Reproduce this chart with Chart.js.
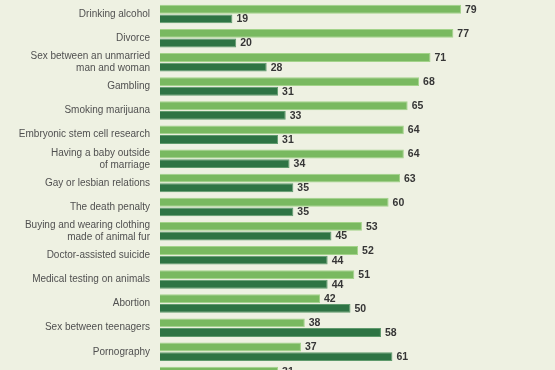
<!DOCTYPE html>
<html>
<head>
<meta charset="utf-8">
<script src="https://cdn.jsdelivr.net/npm/chart.js@4"></script>
<style>
  html, body { margin: 0; padding: 0; background: #eef1e2; overflow: hidden; }
  #wrap { width: 555px; height: 390px; }
</style>
</head>
<body>
<div id="wrap"><canvas id="chart" width="555" height="390"></canvas></div>
<script>
// data
const categories = [
  'Drinking alcohol',
  'Divorce',
  ['Sex between an unmarried', 'man and woman'],
  'Gambling',
  'Smoking marijuana',
  'Embryonic stem cell research',
  ['Having a baby outside', 'of marriage'],
  'Gay or lesbian relations',
  'The death penalty',
  ['Buying and wearing clothing', 'made of animal fur'],
  'Doctor-assisted suicide',
  'Medical testing on animals',
  'Abortion',
  'Sex between teenagers',
  'Pornography',
  'Cloning animals'
];
const acceptable = [79, 77, 71, 68, 65, 64, 64, 63, 60, 53, 52, 51, 42, 38, 37, 31];
const wrong      = [19, 20, 28, 31, 33, 31, 34, 35, 35, 45, 44, 44, 50, 58, 61, 65];
const xTicks = [0, 100];

// value labels next to bar ends
const valueLabels = {
  id: 'valueLabels',
  afterDatasetsDraw(chart) {
    const ctx = chart.ctx;
    ctx.save();
    ctx.font = 'bold 10.5px "Liberation Sans", Arial, sans-serif';
    ctx.fillStyle = '#363636';
    ctx.textAlign = 'left';
    ctx.textBaseline = 'middle';
    chart.data.datasets.forEach((ds, i) => {
      chart.getDatasetMeta(i).data.forEach((bar, j) => {
        ctx.fillText(ds.data[j], bar.x + 4, bar.y + 0.5);
      });
    });
    ctx.restore();
  }
};

new Chart(document.getElementById('chart'), {
  type: 'bar',
  data: {
    labels: categories,
    datasets: [
      {
        label: 'Morally acceptable',
        data: acceptable,
        backgroundColor: '#79b960',
        borderColor: '#a3d38a',
        borderWidth: 1,
        categoryPercentage: 0.8,
        barPercentage: 0.93
      },
      {
        label: 'Morally wrong',
        data: wrong,
        backgroundColor: '#2e7444',
        borderColor: '#5f9a6c',
        borderWidth: 1,
        categoryPercentage: 0.8,
        barPercentage: 0.93
      }
    ]
  },
  options: {
    indexAxis: 'y',
    responsive: false,
    animation: false,
    devicePixelRatio: 1,
    layout: { padding: { top: 2, bottom: 2, left: 0, right: 14 } },
    plugins: {
      legend: { display: false },
      tooltip: { enabled: false }
    },
    scales: {
      x: {
        display: false,
        min: xTicks[0],
        max: xTicks[1]
      },
      y: {
        grid: { display: false },
        border: { display: false },
        ticks: {
          autoSkip: false,
          padding: 2,
          color: '#505050',
          font: { family: '"Liberation Sans", Arial, sans-serif', size: 10, lineHeight: 1.2 }
        },
        afterFit(scale) {
          scale.width = 160;
          scale.paddingTop = 0;
          scale.paddingBottom = 0;
        }
      }
    }
  },
  plugins: [valueLabels]
});
</script>
</body>
</html>
